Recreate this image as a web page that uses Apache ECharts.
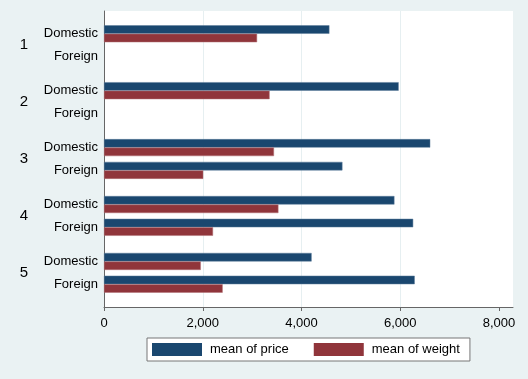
<!DOCTYPE html>
<html>
<head>
<meta charset="utf-8">
<script src="https://cdn.jsdelivr.net/npm/echarts@6/dist/echarts.min.js"></script>
<style>
html,body{margin:0;padding:0;background:#eaf2f3;}
#chart{width:528px;height:379px;}
</style>
</head>
<body>
<div id="chart"></div>
<script>
// ---- data ----
var groups = ['1', '2', '3', '4', '5'];
var subgroups = ['Domestic', 'Foreign'];
var seriesNames = ['mean of price', 'mean of weight'];
// values per group: [Domestic, Foreign]
var priceMeans = [[4564.5, null], [5967.6, null], [6607.1, 4828.7], [5881.6, 6261.4], [4204.5, 6292.7]];
var weightMeans = [[3100, null], [3353.8, null], [3442.2, 2010], [3532.2, 2207.8], [1960, 2403.3]];
var xTicks = [0, 2000, 4000, 6000, 8000];

// ---- build category slots (spacer slots between groups) ----
var cats = [], subLabel = {}, grpLabel = {}, price = [], weight = [];
var slot = 0;
function pushSlot(sub, grp, p, w) {
  cats.push('s' + slot);
  if (sub) subLabel['s' + slot] = sub;
  if (grp) grpLabel['s' + slot] = grp;
  price.push(p === undefined ? null : p);
  weight.push(w === undefined ? null : w);
  slot++;
}
pushSlot(); pushSlot();
groups.forEach(function (g, gi) {
  pushSlot(subgroups[0], null, priceMeans[gi][0], weightMeans[gi][0]);
  pushSlot(null, g);
  pushSlot(subgroups[1], null, priceMeans[gi][1], weightMeans[gi][1]);
  if (gi < groups.length - 1) { pushSlot(); pushSlot(); }
});
pushSlot(); pushSlot();

var chart = echarts.init(document.getElementById('chart'));
var font = 'Liberation Sans, Arial, sans-serif';
var gridC = '#e6eff1';
chart.setOption({
  backgroundColor: '#eaf2f3',
  animation: false,
  textStyle: { fontFamily: font },
  grid: { left: 104, right: 15, top: 11, bottom: 72, show: true, backgroundColor: '#ffffff', borderWidth: 0 },
  legend: {
    data: seriesNames,
    left: 147, top: 338,
    itemWidth: 50, itemHeight: 13, itemGap: 25,
    padding: [5, 10, 5, 5],
    backgroundColor: '#ffffff', borderColor: '#777777', borderWidth: 1,
    itemStyle: { borderWidth: 0 },
    textStyle: { fontSize: 13, color: '#000000', fontFamily: font, padding: [0, 0, 0, 3] },
    icon: 'rect'
  },
  xAxis: {
    type: 'value', min: 0, max: 8283, interval: 2000,
    axisLine: { show: true, lineStyle: { color: '#666666', width: 1 } },
    axisTick: { show: true, length: 4, lineStyle: { color: '#666666' }, customValues: xTicks },
    axisLabel: {
      customValues: xTicks, margin: 10, fontSize: 13, color: '#000000', fontFamily: font,
      formatter: function (v) { return echarts.format.addCommas(v); }
    },
    splitLine: { show: true, lineStyle: { color: ['transparent', gridC, gridC, gridC, 'transparent', 'transparent'], width: 1 } }
  },
  yAxis: [{
    type: 'category', data: cats, inverse: true, boundaryGap: false,
    axisLine: { show: true, lineStyle: { color: '#666666' } },
    axisTick: { show: false },
    axisLabel: {
      interval: 0, margin: 6, fontSize: 13, color: '#000000', fontFamily: font,
      formatter: function (v) { return subLabel[v] || ''; }
    },
    splitLine: { show: false }
  }, {
    type: 'category', data: cats, inverse: true, boundaryGap: false, position: 'left', offset: 70,
    axisLine: { show: false }, axisTick: { show: false },
    axisLabel: {
      interval: 0, margin: 6, fontSize: 15, color: '#000000', fontFamily: font,
      formatter: function (v) { return grpLabel[v] || ''; }
    },
    splitLine: { show: false }
  }],
  series: [{
    name: seriesNames[0], type: 'bar', data: price, barWidth: 8.5, barGap: '0%',
    itemStyle: { color: '#1a476f', borderColor: '#5d7d9a', borderWidth: 0.5 }
  }, {
    name: seriesNames[1], type: 'bar', data: weight, barWidth: 8.5, barGap: '0%',
    itemStyle: { color: '#90353b', borderColor: '#b07075', borderWidth: 0.5 }
  }]
});
</script>
</body>
</html>
